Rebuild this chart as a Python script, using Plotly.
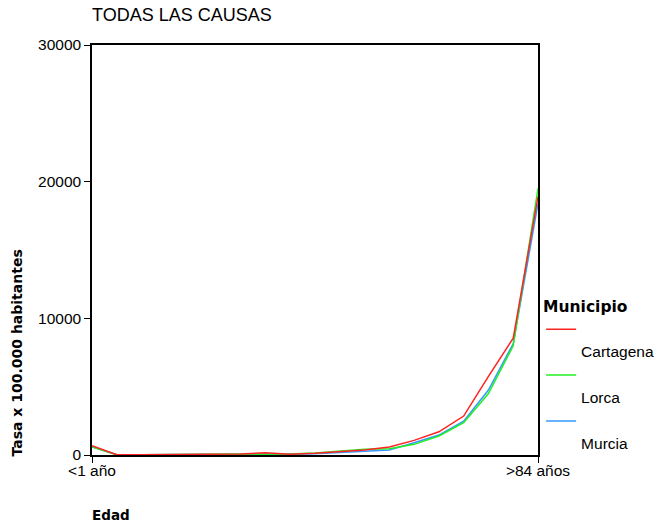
import plotly.graph_objects as go

edades = ["<1 año", "1-4", "5-9", "10-14", "15-19", "20-24", "25-29", "30-34",
          "35-39", "40-44", "45-49", "50-54", "55-59", "60-64", "65-69",
          "70-74", "75-79", "80-84", ">84 años"]
cartagena = [680, 20, 15, 20, 30, 60, 80, 160, 60, 130, 230, 360, 590, 1070, 1700, 2850, 5750, 8550, 18900]
lorca = [580, 20, 15, 20, 40, 70, 50, 90, 80, 150, 280, 420, 460, 780, 1390, 2360, 4500, 8000, 19500]
murcia = [600, 20, 15, 15, 30, 50, 50, 70, 50, 100, 180, 280, 365, 900, 1460, 2480, 4750, 8150, 18400]
y_ticks = [0, 10000, 20000, 30000]
x_ticks = ["<1 año", ">84 años"]

FONT = "Liberation Sans, Arial, sans-serif"
BOLD = "DejaVu Sans, Verdana, sans-serif"

def lname(s):
    return "<br><span style='font-size:15.5px'>" + s + "</span>"

fig = go.Figure()
fig.add_trace(go.Scatter(x=edades, y=murcia, mode="lines", name=lname("Murcia"),
                         line=dict(color="#3399ff", width=1.5), legendrank=3))
fig.add_trace(go.Scatter(x=edades, y=lorca, mode="lines", name=lname("Lorca"),
                         line=dict(color="#22ee22", width=1.5), legendrank=2))
fig.add_trace(go.Scatter(x=edades, y=cartagena, mode="lines", name=lname("Cartagena"),
                         line=dict(color="#ff2222", width=1.5), legendrank=1))

fig.update_layout(
    width=657, height=526,
    margin=dict(l=92, r=119, t=45, b=71, autoexpand=False),
    paper_bgcolor="white", plot_bgcolor="white",
    font=dict(family=FONT, size=15.5, color="black"),
    title=dict(text="TODAS LAS CAUSAS", x=92/657, xanchor="left", y=1 - 15/526,
               yanchor="middle", font=dict(size=18, family=FONT)),
    showlegend=True,
    legend=dict(title=dict(text="<b>Municipio</b>", font=dict(size=15.5, family=BOLD)),
                x=1.007, xanchor="left", y=0.398, yanchor="top",
                valign="top", font=dict(size=16.5, family=FONT), bgcolor="rgba(0,0,0,0)",
                itemwidth=30, traceorder="normal"),
    xaxis=dict(type="category", categoryorder="array", categoryarray=edades,
               tickmode="array", tickvals=x_ticks, ticktext=x_ticks,
               ticks="outside", ticklen=6, tickcolor="black", showline=True,
               linecolor="black", linewidth=1.5, mirror=True, showgrid=False,
               zeroline=False, range=[0, len(edades) - 1],
               tickfont=dict(size=15.5), ticklabelstandoff=-5),
    yaxis=dict(range=[0, 30000], tickmode="array", tickvals=y_ticks,
               ticktext=[str(v) for v in y_ticks],
               ticks="outside", ticklen=6, tickcolor="black", showline=True,
               linecolor="black", linewidth=1.5, mirror=True, showgrid=False,
               zeroline=False, tickfont=dict(size=15.5)),
)
fig.add_annotation(text="<b>Tasa x 100.000 habitantes</b>", xref="paper", yref="paper",
                   x=-(92 - 16.5) / 446, y=(455 - 353) / 410, xanchor="center",
                   yanchor="middle", textangle=-90, showarrow=False,
                   font=dict(size=14, family=BOLD))
fig.add_annotation(text="<b>Edad</b>", xref="paper", yref="paper",
                   x=(111 - 92) / 446, y=-(515 - 455) / 410, xanchor="center",
                   yanchor="middle", showarrow=False, font=dict(size=13.5, family=BOLD))

fig.write_html("out.html", config={"displayModeBar": False},
               post_script="document.body.style.margin='0';")
